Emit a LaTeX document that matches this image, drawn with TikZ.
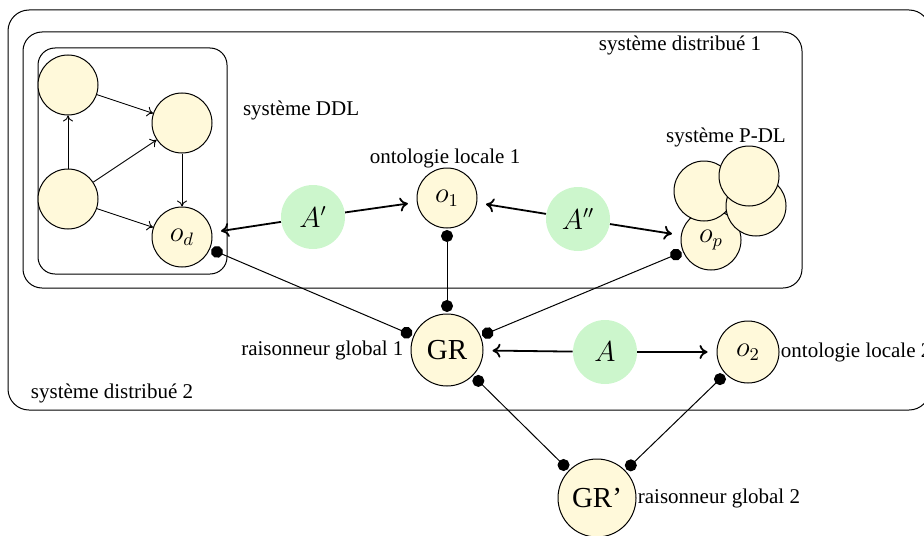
\documentclass[tikz,border=0pt]{standalone}
\usepackage{fontspec}
\setmainfont{Liberation Serif}
\usetikzlibrary{arrows.meta}
\definecolor{ycol}{RGB}{255,249,218}
\definecolor{gcol}{RGB}{204,246,204}
\tikzset{
  lbl/.style={font=\fontsize{10.5}{12.6}\selectfont},
  yc/.style={circle, draw, line width=0.5pt, fill=ycol, minimum size=30pt, inner sep=0pt, font=\fontsize{13.5}{16}\selectfont},
  gc/.style={circle, fill=gcol, minimum size=32pt, inner sep=0pt, font=\fontsize{13.5}{16}\selectfont},
  big/.style={yc, font=\fontsize{14.5}{17}\selectfont},
  boxline/.style={line width=0.5pt},
  bigarrow/.style={line width=0.9pt, -{To[length=4pt,width=7pt]}, shorten >=4.5pt},
  smallarrow/.style={line width=0.45pt, -{To[length=3pt,width=5pt]}},
  dotline/.style={line width=0.5pt, {Circle[length=6pt]}-{Circle[length=6pt]}, shorten <=0.75pt, shorten >=0.75pt},
}
\begin{document}
\begin{tikzpicture}[x=0.5pt,y=-0.5pt]
\useasboundingbox (0,0) rectangle (924,535);
% containers
\draw[boxline, rounded corners=10.5pt] (8,10) rectangle (930,410);
\draw[boxline, rounded corners=9.5pt] (23,32) rectangle (802,288);
\draw[boxline, rounded corners=8.5pt] (38,48) rectangle (227,274);
% container labels
\node[lbl] (sd1) at (680,45) {système distribué 1};
\node[lbl] (sd2) at (112,393) {système distribué 2};
\node[lbl, anchor=west] (sddl) at (236,110) {système DDL};
\node[lbl] (spdl) at (726,137) {système P-DL};
% DDL system
\node[yc] (tl) at (68,85) {};
\node[yc] (tr) at (182,123) {};
\node[yc] (bl) at (68,199) {};
\node[yc] (od) at (182,237) {$o_d$};
\draw[smallarrow] (tl) -- (tr);
\draw[smallarrow] (bl) -- (tl);
\draw[smallarrow] (bl) -- (tr);
\draw[smallarrow] (bl) -- (od);
\draw[smallarrow] (tr) -- (od);
% ontology 1
\node[yc] (o1) at (447,198) {$o_1$};
\node[lbl] (ol1) at (445,158) {ontologie locale 1};
% P-DL system
\node[yc] (op) at (711,240) {$o_p$};
\node[yc] (p1) at (704,191) {};
\node[yc] (p2) at (756,206) {};
\node[yc] (p3) at (749,176) {};
% alignments
\node[gc] (Ap) at (313,217) {$A'$};
\node[gc] (App) at (578,219) {$A''$};
\draw[bigarrow] (Ap) -- (od);
\draw[bigarrow] (Ap) -- (o1);
\draw[bigarrow] (App) -- (o1);
\draw[bigarrow] (App) -- (op);
% global reasoner 1
\node[big, minimum size=36pt] (GR) at (447,350) {GR};
\node[lbl, anchor=east] (rg1) at (GR.west) {raisonneur global 1};
\node[gc] (A) at (605,352) {$A$};
\node[yc, minimum size=31pt] (o2) at (748,352) {$o_2$};
\node[lbl, anchor=west, inner sep=0.5pt] (ol2) at (o2.east) {ontologie locale 2};
\draw[bigarrow] (A) -- (GR);
\draw[bigarrow] (A) -- (o2);
% global reasoner 2
\node[big, minimum size=39pt] (GRp) at (597,498) {GR'};
\node[lbl, anchor=west, inner sep=0.5pt] (rg2) at (GRp.east) {raisonneur global 2};
% dotted connectors
\draw[dotline] (od) -- (GR);
\draw[dotline] (o1) -- (GR);
\draw[dotline] (op) -- (GR);
\draw[dotline] (GR) -- (GRp);
\draw[dotline] (o2) -- (GRp);
\end{tikzpicture}
\end{document}
